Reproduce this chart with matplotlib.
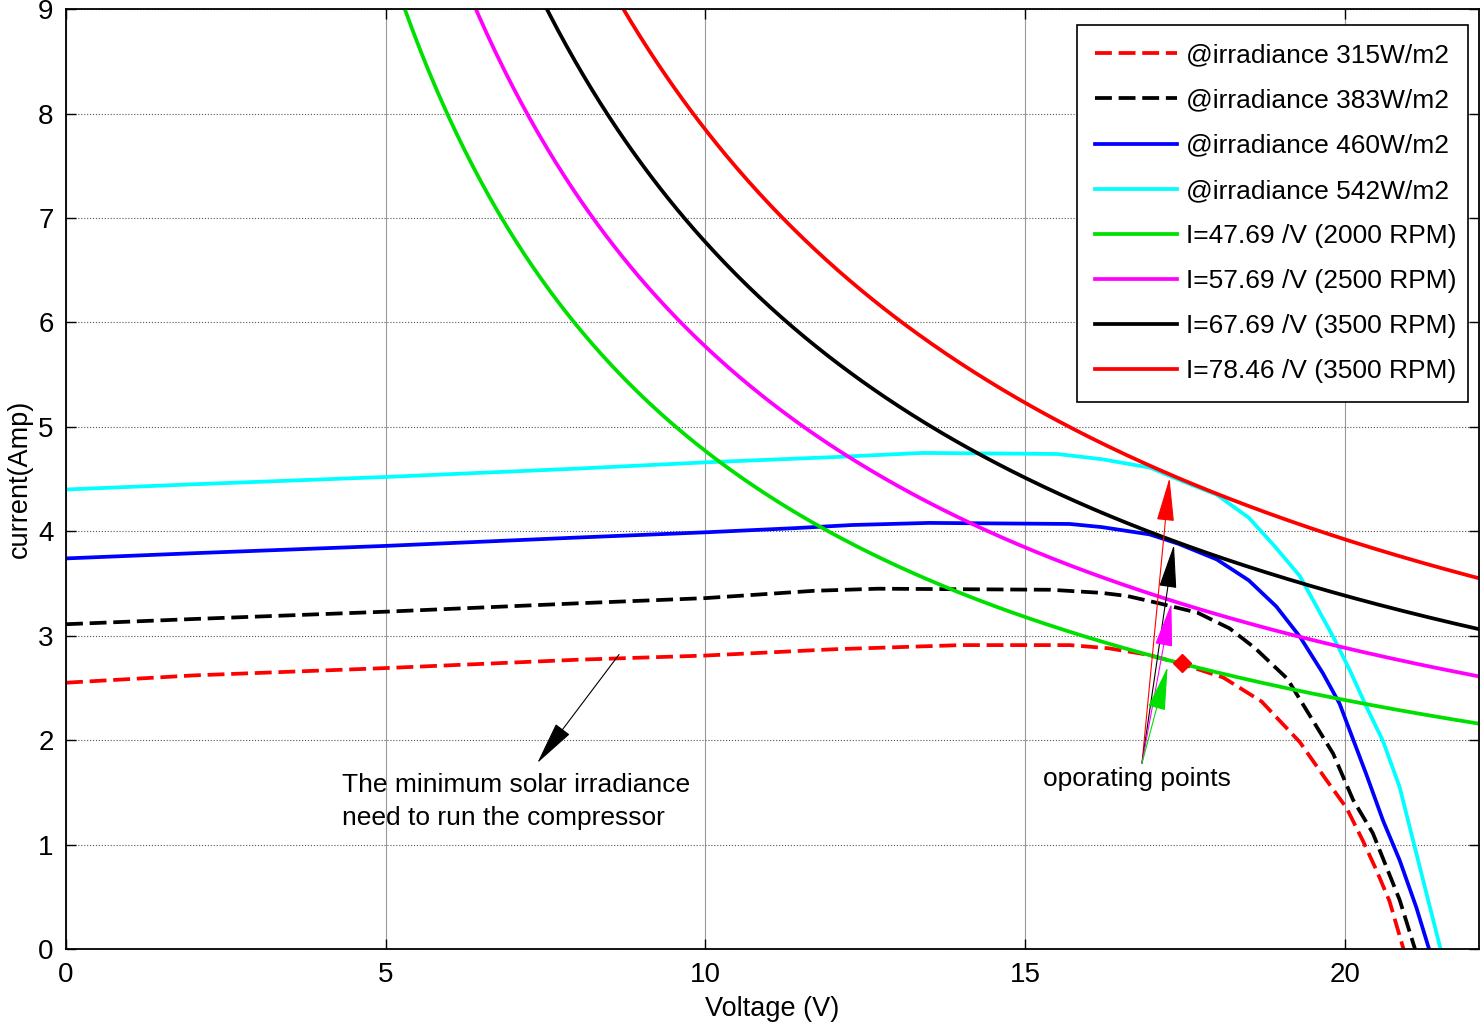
import numpy as np
import matplotlib
matplotlib.use('Agg')
import matplotlib.pyplot as plt

plt.rcParams['font.family'] = ['Liberation Sans', 'DejaVu Sans']

# PV curves (voltage, current)
pv315_v = [0, 2, 5, 8, 10, 12, 14, 15.7, 16.3, 16.9, 17.4, 18.1, 18.7, 19.3, 19.7, 20.03, 20.29, 20.5, 20.7, 20.92]
pv315_i = [2.55, 2.62, 2.69, 2.77, 2.81, 2.87, 2.91, 2.91, 2.88, 2.82, 2.74, 2.6, 2.37, 1.98, 1.63, 1.35, 1.03, 0.75, 0.46, 0.0]

pv383_v = [0, 2, 5, 8, 10, 11.7, 12.7, 15.4, 16.2, 16.6, 17.1, 17.7, 18.2, 18.6, 19.1, 19.5, 19.82, 20.13, 20.44, 20.65, 20.86, 21.1]
pv383_i = [3.11, 3.16, 3.23, 3.31, 3.36, 3.43, 3.45, 3.44, 3.41, 3.38, 3.31, 3.22, 3.07, 2.88, 2.59, 2.19, 1.87, 1.43, 1.11, 0.79, 0.47, 0.0]

pv460_v = [0, 2, 5, 8, 10, 11.4, 12.3, 13.5, 15.7, 16.2, 16.95, 17.4, 18.0, 18.5, 18.93, 19.3, 19.66, 19.92, 20.34, 20.6, 20.86, 21.12, 21.32]
pv460_i = [3.74, 3.79, 3.86, 3.94, 3.99, 4.03, 4.06, 4.08, 4.07, 4.04, 3.97, 3.88, 3.73, 3.53, 3.28, 2.99, 2.64, 2.35, 1.67, 1.23, 0.85, 0.4, 0.0]

pv542_v = [0, 2, 5, 8, 10, 12, 13.4, 15.5, 16.2, 16.95, 17.5, 18.0, 18.5, 18.9, 19.3, 19.56, 19.82, 20.08, 20.34, 20.6, 20.86, 21.07, 21.28, 21.5]
pv542_i = [4.40, 4.45, 4.52, 4.60, 4.66, 4.71, 4.75, 4.74, 4.69, 4.61, 4.47, 4.35, 4.13, 3.86, 3.57, 3.28, 2.99, 2.67, 2.32, 1.99, 1.55, 1.04, 0.53, 0.0]

# load lines I = k / V, constants from the legend
load_k = [47.69, 57.69, 67.69, 78.46]
load_rpm = ['2000', '2500', '3500', '3500']
load_colors = ['#00e000', '#ff00ff', 'black', 'red']

# operating points (arrow heads) and where the arrows start
op_v = [17.26, 17.33, 17.29, 17.23]
op_i = [4.51, 3.87, 3.31, 2.70]
op_colors = ['red', 'black', '#ff00ff', '#00e000']
op_tail = (16.83, 1.78)
diamond = (17.45, 2.74)

fig = plt.figure(figsize=(14.81, 10.34), dpi=100)
ax = fig.add_axes([0.0446, 0.0822, 0.954, 0.909])

lw = 2.7
dash = (0, (4.5, 1.8))
ax.plot(pv315_v, pv315_i, color='red', lw=lw, linestyle=dash, label='@irradiance 315W/m2')
ax.plot(pv383_v, pv383_i, color='black', lw=lw, linestyle=dash, label='@irradiance 383W/m2')
ax.plot(pv460_v, pv460_i, color='#0000ff', lw=lw, label='@irradiance 460W/m2')
ax.plot(pv542_v, pv542_i, color='#00ffff', lw=lw, label='@irradiance 542W/m2')

v = np.linspace(4.5, 22.2, 400)
for k, rpm, c in zip(load_k, load_rpm, load_colors):
    ax.plot(v, k / v, color=c, lw=lw, label='I=%.2f /V (%s RPM)' % (k, rpm))

ax.plot(diamond[0], diamond[1], marker='D', color='red', markersize=9)

head = '-|>,head_length=1.4,head_width=0.28'
for x, y, c in zip(op_v, op_i, op_colors):
    ax.annotate('', xy=(x, y), xytext=op_tail,
                arrowprops=dict(arrowstyle=head, color=c, lw=0.8,
                                mutation_scale=20, shrinkA=0, shrinkB=0))
ax.text(16.75, 1.63, 'oporating points', fontsize=19, ha='center', va='center')

ax.annotate('', xy=(7.37, 1.78), xytext=(8.65, 2.82),
            arrowprops=dict(arrowstyle=head, color='black', lw=0.8,
                            mutation_scale=20, shrinkA=0, shrinkB=0))
ax.text(4.32, 1.41, 'The minimum solar irradiance\nneed to run the compressor',
        fontsize=19, ha='left', va='center', linespacing=1.45)

ax.set_xlim(0, 22.1)
ax.set_ylim(0, 9)
ax.set_xticks([0, 5, 10, 15, 20])
ax.set_yticks(range(10))
ax.tick_params(direction='in', length=7, width=1, labelsize=20, top=True, right=True, pad=9)
ax.grid(axis='y', color='#555555', linestyle=':', lw=0.8)
ax.grid(axis='x', color='#999999', linestyle='-', lw=0.8)
for s in ax.spines.values():
    s.set_linewidth(1.3)

ax.set_xlabel('Voltage (V)', fontsize=19.5, labelpad=6)
ax.set_ylabel('current(Amp)', fontsize=19.5, labelpad=4)

leg = ax.legend(loc='upper left', bbox_to_anchor=(0.7155, 0.5926, 0.2767, 0.3904),
                mode='expand', fontsize=19, handlelength=3.1, handletextpad=0.35,
                labelspacing=0.8, borderpad=0.7, borderaxespad=0,
                fancybox=False, framealpha=1, edgecolor='black')
leg.get_frame().set_linewidth(1.2)

fig.savefig('out.png', dpi=100)
